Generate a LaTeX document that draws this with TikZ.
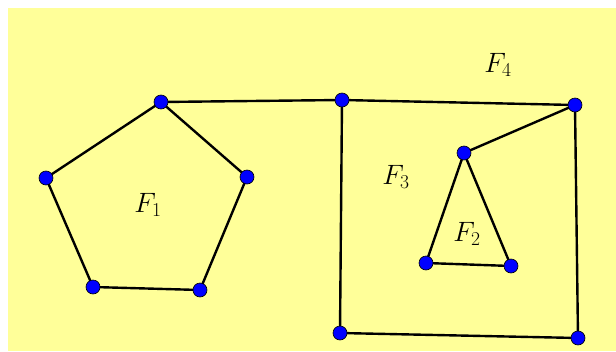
\documentclass[tikz,border=0pt]{standalone}
\usepackage{fix-cm}
\definecolor{bgy}{HTML}{FFFF99}
\tikzset{pt/.style={circle,fill=blue,draw=black,line width=0.6pt,inner sep=0pt,minimum size=14pt},
  edge/.style={line width=2.4pt,black},
  lab/.style={font=\fontsize{28}{32}\selectfont}}
\begin{document}
\begin{tikzpicture}[x=1pt,y=-1pt]
\useasboundingbox (0,0) rectangle (616,351);
\fill[white] (0,0) rectangle (616,351);
\fill[bgy] (8,8) rectangle (616,351);
\coordinate (a) at (161,102);
\coordinate (b) at (247,177);
\coordinate (c) at (200,290);
\coordinate (d) at (93,287);
\coordinate (e) at (46,178);
\coordinate (s1) at (342,100);
\coordinate (s2) at (575,105);
\coordinate (s3) at (578,338);
\coordinate (s4) at (340,333);
\coordinate (t1) at (464,153);
\coordinate (t2) at (511,266);
\coordinate (t3) at (426,263);
\draw[edge] (a) -- (b) -- (c) -- (d) -- (e) -- cycle;
\draw[edge] (a) -- (s1);
\draw[edge] (s1) -- (s2) -- (s3) -- (s4) -- cycle;
\draw[edge] (t1) -- (t2) -- (t3) -- cycle;
\draw[edge] (t1) -- (s2);
\foreach \p in {a,b,c,d,e,s1,s2,s3,s4,t1,t2,t3} \node[pt] (n\p) at (\p) {};
\node[lab] (f1) at (148,205) {$F_1$};
\node[lab] (f2) at (467,234) {$F_2$};
\node[lab] (f3) at (396,177) {$F_3$};
\node[lab] (f4) at (498,65) {$F_4$};
\end{tikzpicture}
\end{document}
